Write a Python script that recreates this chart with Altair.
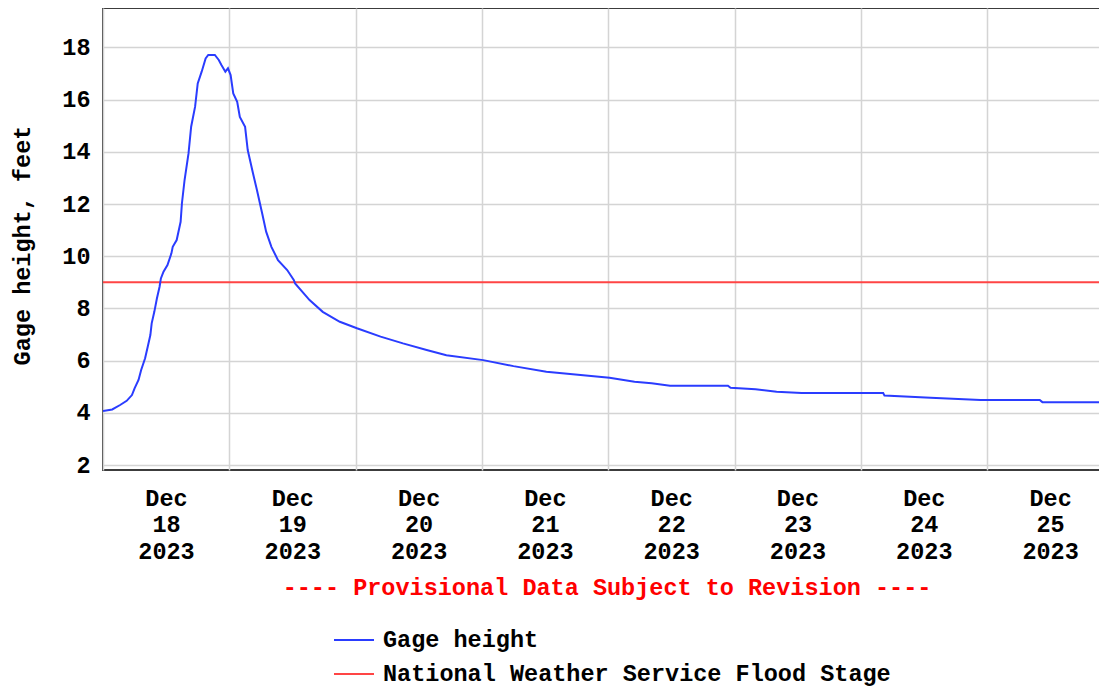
import altair as alt
import pandas as pd

# ---- data ----
times = [
    "2023-12-18T00:00", "2023-12-18T01:45", "2023-12-18T03:15", "2023-12-18T04:30",
    "2023-12-18T05:30", "2023-12-18T06:00", "2023-12-18T06:45", "2023-12-18T07:15",
    "2023-12-18T08:00", "2023-12-18T08:30", "2023-12-18T09:00", "2023-12-18T09:15",
    "2023-12-18T09:45", "2023-12-18T10:15", "2023-12-18T10:45", "2023-12-18T11:00",
    "2023-12-18T11:30", "2023-12-18T12:15", "2023-12-18T13:00", "2023-12-18T13:15",
    "2023-12-18T14:00", "2023-12-18T14:45", "2023-12-18T15:00", "2023-12-18T15:30",
    "2023-12-18T16:15", "2023-12-18T16:45", "2023-12-18T17:30", "2023-12-18T18:00",
    "2023-12-18T18:45", "2023-12-18T19:30", "2023-12-18T20:00", "2023-12-18T21:15",
    "2023-12-18T22:00", "2023-12-18T22:30", "2023-12-18T23:15", "2023-12-18T23:45",
    "2023-12-19T00:15", "2023-12-19T00:45", "2023-12-19T01:30", "2023-12-19T02:00",
    "2023-12-19T03:00", "2023-12-19T03:30", "2023-12-19T04:30", "2023-12-19T05:15",
    "2023-12-19T06:15", "2023-12-19T07:00", "2023-12-19T08:00", "2023-12-19T09:15",
    "2023-12-19T11:00", "2023-12-19T12:15", "2023-12-19T12:30", "2023-12-19T15:15",
    "2023-12-19T17:45", "2023-12-19T21:00", "2023-12-20T00:15", "2023-12-20T04:45",
    "2023-12-20T09:00", "2023-12-20T13:30", "2023-12-20T17:15", "2023-12-21T00:15",
    "2023-12-21T06:00", "2023-12-21T12:15", "2023-12-21T18:45", "2023-12-22T00:15",
    "2023-12-22T05:00", "2023-12-22T08:15", "2023-12-22T11:45", "2023-12-22T22:45",
    "2023-12-22T23:15", "2023-12-23T04:00", "2023-12-23T08:00", "2023-12-23T12:45",
    "2023-12-24T04:15", "2023-12-24T04:30", "2023-12-24T13:15", "2023-12-24T22:45",
    "2023-12-25T10:00", "2023-12-25T10:30", "2023-12-25T23:45",
]
gage_height = [
    4.07, 4.13, 4.30, 4.46,
    4.68, 4.94, 5.26, 5.64,
    6.09, 6.53, 6.98, 7.43,
    7.87, 8.39, 8.83, 9.15,
    9.41, 9.66, 10.11, 10.36,
    10.62, 11.32, 12.03, 12.92,
    13.94, 14.96, 15.73, 16.62,
    17.07, 17.58, 17.71, 17.71,
    17.52, 17.33, 17.07, 17.20,
    16.94, 16.24, 15.92, 15.34,
    14.96, 14.07, 13.18, 12.54,
    11.64, 10.94, 10.36, 9.85,
    9.47, 9.09, 8.96, 8.32,
    7.87, 7.49, 7.24, 6.92,
    6.66, 6.41, 6.21, 6.02,
    5.79, 5.57, 5.45, 5.34,
    5.19, 5.13, 5.04, 5.04,
    4.96, 4.90, 4.81, 4.76,
    4.76, 4.66, 4.58, 4.49,
    4.49, 4.41, 4.41,
]
flood_stage = [9.0]
y_tick_values = [2, 4, 6, 8, 10, 12, 14, 16, 18]
x_tick_days = [18, 19, 20, 21, 22, 23, 24, 25]
series_names = ["Gage height", "National Weather Service Flood Stage"]
series_colors = ["#2a3cff", "#ff4545"]
y_title = "Gage height, feet"
subtitle = ["---- Provisional Data Subject to Revision ----"]

FONT = "Liberation Mono"
FS = 23.5
PLOT_W = 1007
SVG_W = 1091

gage_df = pd.DataFrame({"time": times, "value": gage_height, "series": series_names[0]})
flood_df = pd.DataFrame({"value": flood_stage, "series": [series_names[1]]})
note_df = pd.DataFrame({"note": subtitle})

x_scale = alt.Scale(
    domain=[alt.DateTime(year=2023, month=12, date=18),
            alt.DateTime(year=2023, month=12, date=25, hours=23, minutes=21)],
    nice=False,
)
y_scale = alt.Scale(domain=[1.81, 19.51], nice=False, zero=False)
color_scale = alt.Scale(domain=series_names, range=series_colors)

x_axis = alt.Axis(
    values=[alt.DateTime(year=2023, month=12, date=d) for d in x_tick_days],
    title=None,
    grid=True,
    ticks=False,
    tickSize=0,
    domain=False,
    labelExpr="[timeFormat(datum.value, '%b'), timeFormat(datum.value, '%d'), timeFormat(datum.value, '%Y')]",
    labelOffset=63,
    labelAlign="center",
    labelBaseline="top",
    labelPadding=16,
    labelLineHeight=26.5,
    labelFlush=False,
    labelOverlap=False,
)
y_axis = alt.Axis(
    values=y_tick_values,
    title=y_title,
    grid=True,
    ticks=False,
    tickSize=0,
    domain=False,
    labelPadding=13,
    labelOverlap=False,
    titleX=-81,
    titleY=237,
    titleAngle=270,
    titleAlign="center",
    titleBaseline="middle",
)

legend = alt.Legend(
    orient="none",
    legendX=230,
    legendY=611,
    title=None,
    direction="vertical",
    symbolType="stroke",
    symbolSize=1600,
    symbolStrokeWidth=2,
    labelOffset=8,
    rowPadding=1,
    labelLimit=1000,
    padding=0,
)

flood = alt.Chart(flood_df).mark_rule(strokeWidth=2).encode(
    y=alt.Y("value:Q", scale=y_scale, axis=y_axis),
    color=alt.Color("series:N", scale=color_scale, legend=legend),
)

line = alt.Chart(gage_df).mark_line(strokeWidth=2, clip=True).encode(
    x=alt.X("time:T", scale=x_scale, axis=x_axis),
    y=alt.Y("value:Q", scale=y_scale, axis=y_axis),
    color=alt.Color("series:N", scale=color_scale, legend=legend),
)

note = alt.Chart(note_df).mark_text(
    font=FONT,
    fontSize=FS,
    fontWeight="bold",
    color="#ff0000",
    align="center",
    baseline="middle",
).encode(
    x=alt.value(504),
    y=alt.value(580),
    text="note:N",
)

chart = (
    alt.layer(flood, line, note)
    .properties(
        width=PLOT_W,
        height=462,
        autosize=alt.AutoSizeParams(type="none"),
        padding={"left": 95, "top": 0, "right": SVG_W - 95 - PLOT_W, "bottom": 218},
    )
    .configure_view(stroke="#3c3c3c", strokeWidth=2)
    .configure_axis(
        labelFont=FONT,
        labelFontSize=FS,
        labelFontWeight="bold",
        labelColor="#000000",
        titleFont=FONT,
        titleFontSize=FS,
        titleFontWeight="bold",
        titleColor="#000000",
        gridColor="#d4d4d4",
        gridWidth=1.5,
    )
    .configure_legend(
        labelFont=FONT,
        labelFontSize=FS,
        labelFontWeight="bold",
        labelColor="#000000",
    )
)

chart.save("out.html", embed_options={"renderer": "svg", "actions": False})
